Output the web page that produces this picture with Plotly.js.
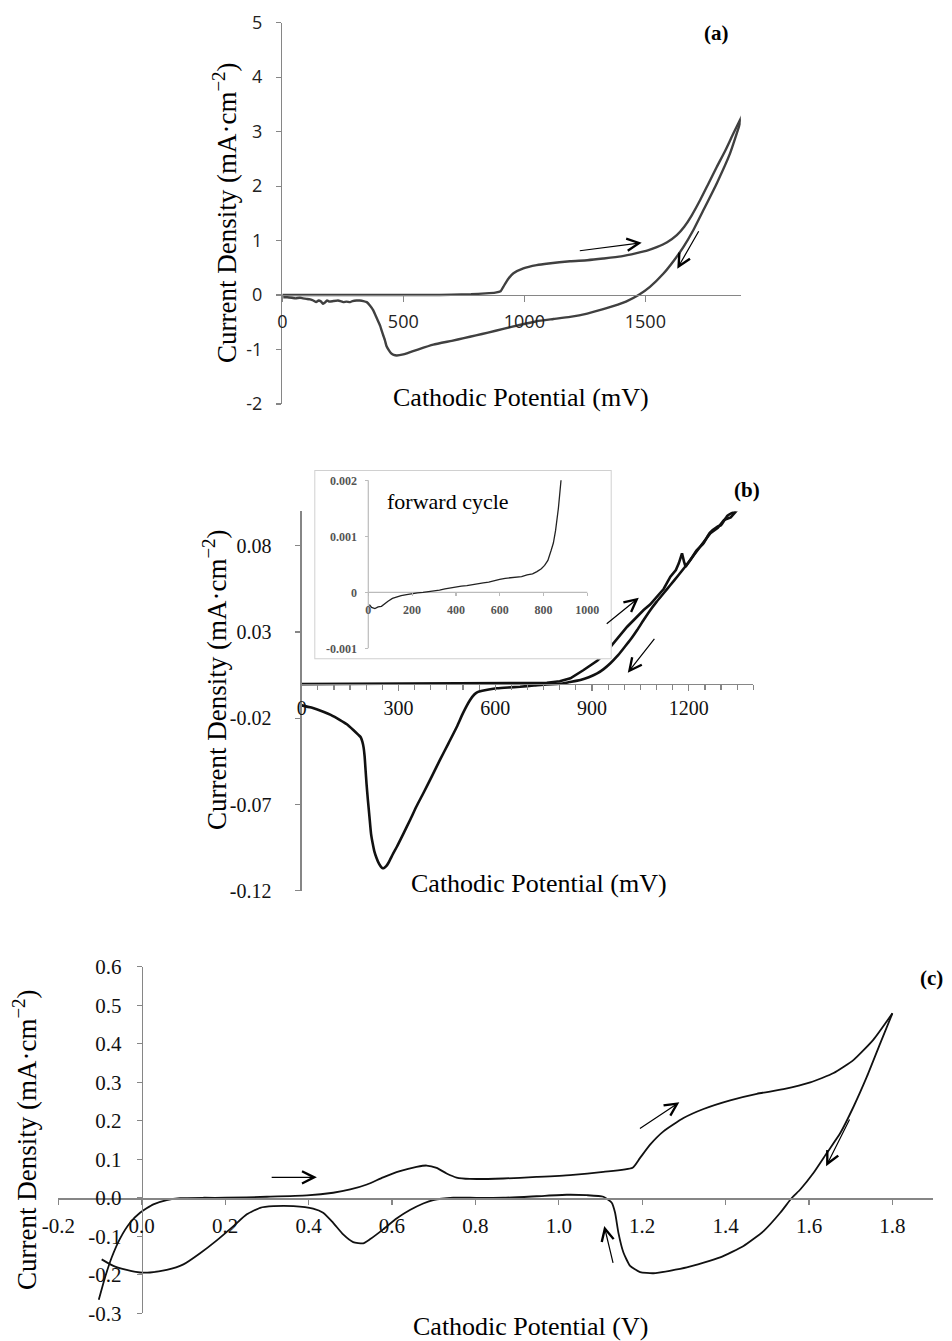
<!DOCTYPE html>
<html>
<head>
<meta charset="utf-8">
<script src="https://cdn.plot.ly/plotly-3.0.1.min.js"></script>
<style>html,body{margin:0;padding:0;background:#fff;}#chart{width:952px;height:1341px;}</style>
</head>
<body>
<div id="chart"></div>
<script>
// ---------- Panel (a) data : mV vs mA·cm-2 ----------
const aFwdX = [0, 100, 200, 300, 400, 500, 600, 700, 780, 840, 880, 902, 913, 934, 955, 996, 1051, 1100, 1189, 1260, 1326, 1400, 1464, 1510, 1547, 1590, 1630, 1660, 1690, 1726, 1760, 1795, 1830, 1864, 1905];
const aFwdY = [0, 0, 0, 0, 0, 0, 0, 0.005, 0.015, 0.03, 0.045, 0.07, 0.15, 0.30, 0.40, 0.49, 0.55, 0.58, 0.62, 0.64, 0.67, 0.71, 0.77, 0.82, 0.88, 0.97, 1.1, 1.25, 1.45, 1.74, 2.04, 2.35, 2.65, 2.97, 3.34];
const aRevX = [1905, 1850, 1795, 1740, 1698, 1657, 1619, 1574, 1519, 1472, 1420, 1370, 1326, 1260, 1189, 1120, 1051, 980, 913, 850, 800, 750, 700, 624, 560, 520, 500, 473, 460, 450, 440, 430, 424, 414, 404, 390, 376, 362, 349, 335, 320, 307, 290, 280, 265, 252, 240, 230, 211, 195, 185, 175, 168, 160, 150, 140, 128, 115, 100, 85, 73, 55, 40, 20, 4];
const aRevY = [3.34, 2.6, 2.05, 1.56, 1.19, 0.88, 0.64, 0.39, 0.15, 0.0, -0.12, -0.2, -0.26, -0.34, -0.40, -0.44, -0.48, -0.55, -0.62, -0.69, -0.74, -0.79, -0.84, -0.91, -1.0, -1.06, -1.09, -1.11, -1.10, -1.07, -1.01, -0.93, -0.83, -0.70, -0.56, -0.42, -0.28, -0.19, -0.13, -0.11, -0.10, -0.10, -0.11, -0.13, -0.12, -0.13, -0.11, -0.10, -0.11, -0.12, -0.10, -0.14, -0.16, -0.12, -0.10, -0.13, -0.10, -0.08, -0.07, -0.06, -0.05, -0.06, -0.05, -0.04, -0.04];
const aXTicks = [0, 500, 1000, 1500];
const aXTickText = ['0', '500', '1000', '1500'];
const aYTicks = [-2, -1, 0, 1, 2, 3, 4, 5];
const aYTickText = ['-2', '-1', '0', '1', '2', '3', '4', '5'];

// ---------- Panel (b) data ----------
const bFwdX = [0, 100, 200, 300, 400, 500, 600, 700, 760, 800, 833, 874, 916, 940, 962, 985, 1009, 1035, 1060, 1080, 1102, 1122, 1143, 1160, 1169, 1179, 1185, 1190, 1205, 1226, 1245, 1267, 1290, 1309, 1330, 1350, 1380];
const bFwdY = [-0.0002, -0.0001, 0, 0.0001, 0.0001, 0.0002, 0.0003, 0.0003, 0.0006, 0.0015, 0.0032, 0.008, 0.0134, 0.0175, 0.0225, 0.0275, 0.0331, 0.038, 0.0428, 0.046, 0.0505, 0.055, 0.0621, 0.066, 0.0699, 0.0757, 0.071, 0.0679, 0.072, 0.0776, 0.082, 0.0873, 0.0905, 0.095, 0.0965, 0.1008, 0.106];
const bRevX = [1380, 1340, 1320, 1300, 1288, 1265, 1246, 1225, 1205, 1185, 1164, 1143, 1122, 1100, 1081, 1060, 1040, 1020, 998, 978, 957, 936, 916, 890, 864, 830, 800, 760, 720, 677, 640, 605, 580, 560, 545, 535, 522, 500, 481, 455, 429, 403, 377, 356, 336, 315, 295, 282, 270, 262, 256, 251, 246, 240, 232, 225, 220, 215, 210, 205, 201, 198, 195, 192, 188, 183, 175, 160, 140, 119, 90, 67, 30, 0];
const bRevY = [0.106, 0.0998, 0.0975, 0.092, 0.0911, 0.0875, 0.0815, 0.0775, 0.0718, 0.067, 0.0621, 0.0573, 0.0525, 0.0475, 0.0428, 0.037, 0.0312, 0.0258, 0.0206, 0.016, 0.0119, 0.0085, 0.006, 0.0038, 0.0022, 0.001, 0.0, -0.0003, -0.001, -0.0017, -0.0021, -0.0026, -0.0033, -0.004, -0.0048, -0.0062, -0.0094, -0.017, -0.0249, -0.0345, -0.044, -0.0538, -0.0635, -0.071, -0.079, -0.087, -0.0945, -0.099, -0.1035, -0.1058, -0.1067, -0.107, -0.1062, -0.1045, -0.101, -0.097, -0.0925, -0.087, -0.077, -0.067, -0.058, -0.05, -0.042, -0.037, -0.0335, -0.031, -0.0295, -0.0268, -0.0235, -0.021, -0.018, -0.0162, -0.0138, -0.0125];
const bXTicks = [0, 300, 600, 900, 1200];
const bXTickText = ['0', '300', '600', '900', '1200'];
const bYTicks = [-0.12, -0.07, -0.02, 0.03, 0.08];
const bYTickText = ['-0.12', '-0.07', '-0.02', '0.03', '0.08'];

// ---------- Inset (forward cycle) ----------
const insX = [5, 15, 30, 45, 60, 75, 90, 110, 130, 150, 175, 200, 225, 250, 275, 300, 325, 350, 375, 400, 425, 450, 475, 500, 525, 550, 575, 600, 625, 650, 675, 700, 725, 750, 770, 790, 805, 820, 835, 845, 855, 862, 868, 874, 880];
const insY = [-0.00022, -0.00027, -0.00029, -0.00026, -0.00025, -0.0002, -0.00016, -0.00011, -0.00008, -0.00006, -0.00004, -0.00002, -0.00001, 0.0, 0.00001, 0.00002, 0.00004, 0.00006, 0.00008, 0.0001, 0.00011, 0.00012, 0.00014, 0.00015, 0.00017, 0.00018, 0.00021, 0.00023, 0.00025, 0.00026, 0.00027, 0.00028, 0.00031, 0.00033, 0.00037, 0.00042, 0.00048, 0.00057, 0.00075, 0.00088, 0.0011, 0.0013, 0.0015, 0.00175, 0.002];
const insXTicks = [0, 200, 400, 600, 800, 1000];
const insXTickText = ['0', '200', '400', '600', '800', '1000'];
const insYTicks = [-0.001, 0, 0.001, 0.002];
const insYTickText = ['-0.001', '0', '0.001', '0.002'];

// ---------- Panel (c) data : V vs mA·cm-2 ----------
const cFwdX = [-0.103, -0.088, -0.072, -0.052, -0.028, -0.004, 0.028, 0.06, 0.092, 0.15, 0.2, 0.3, 0.396, 0.459, 0.5, 0.54, 0.579, 0.619, 0.659, 0.683, 0.707, 0.731, 0.755, 0.787, 0.867, 0.947, 1.027, 1.107, 1.177, 1.195, 1.219, 1.251, 1.299, 1.347, 1.411, 1.475, 1.539, 1.603, 1.659, 1.707, 1.754, 1.8];
const cFwdY = [-0.265, -0.207, -0.155, -0.106, -0.065, -0.039, -0.017, -0.006, -0.001, 0.0, 0.0, 0.0026, 0.006, 0.013, 0.0215, 0.0345, 0.053, 0.069, 0.080, 0.0837, 0.0777, 0.063, 0.0526, 0.049, 0.05, 0.054, 0.0587, 0.067, 0.0777, 0.1036, 0.138, 0.1725, 0.207, 0.2305, 0.253, 0.270, 0.282, 0.2995, 0.3238, 0.358, 0.41, 0.479];
const cRevX = [1.8, 1.771, 1.739, 1.707, 1.675, 1.643, 1.611, 1.579, 1.559, 1.531, 1.491, 1.443, 1.387, 1.307, 1.227, 1.195, 1.171, 1.155, 1.143, 1.135, 1.127, 1.107, 1.067, 1.019, 0.947, 0.867, 0.787, 0.747, 0.699, 0.675, 0.643, 0.611, 0.579, 0.547, 0.531, 0.507, 0.483, 0.459, 0.435, 0.411, 0.364, 0.316, 0.284, 0.252, 0.22, 0.18, 0.14, 0.1, 0.06, 0.02, -0.004, -0.036, -0.068, -0.096];
const cRevY = [0.479, 0.4016, 0.315, 0.237, 0.168, 0.1166, 0.0648, 0.0215, 0.0, -0.039, -0.0865, -0.125, -0.155, -0.181, -0.196, -0.193, -0.177, -0.142, -0.091, -0.039, -0.013, 0.0026, 0.0067, 0.0078, 0.004, 0.0, 0.0, 0.0, -0.006, -0.015, -0.032, -0.054, -0.082, -0.108, -0.1184, -0.115, -0.095, -0.065, -0.039, -0.0285, -0.0218, -0.0218, -0.026, -0.043, -0.0735, -0.1106, -0.144, -0.173, -0.1875, -0.194, -0.194, -0.1875, -0.177, -0.16];
const cXTicks = [-0.2, 0, 0.2, 0.4, 0.6, 0.8, 1.0, 1.2, 1.4, 1.6, 1.8];
const cXTickText = ['-0.2', '0.0', '0.2', '0.4', '0.6', '0.8', '1.0', '1.2', '1.4', '1.6', '1.8'];
const cYTicks = [-0.3, -0.2, -0.1, 0, 0.1, 0.2, 0.3, 0.4, 0.5, 0.6];
const cYTickText = ['-0.3', '-0.2', '-0.1', '0.0', '0.1', '0.2', '0.3', '0.4', '0.5', '0.6'];

// ---------- layout helpers (pixel -> paper) ----------
const W = 952, H = 1341;
const PX = v => v / W;
const PY = v => 1 - v / H;
const SERIF = 'Liberation Serif, Times New Roman, serif';
const SANS = 'Open Sans, Liberation Sans, sans-serif';
const AX = '#868686';

const traces = [
  {x: aFwdX, y: aFwdY, xaxis: 'x', yaxis: 'y', mode: 'lines', line: {color: '#404040', width: 2.4, shape: 'spline', smoothing: 0.5}},
  {x: aRevX, y: aRevY, xaxis: 'x', yaxis: 'y', mode: 'lines', line: {color: '#404040', width: 2.4, shape: 'spline', smoothing: 0.4}},
  {x: bFwdX, y: bFwdY, xaxis: 'x2', yaxis: 'y2', mode: 'lines', line: {color: '#111', width: 2.6}},
  {x: bRevX, y: bRevY, xaxis: 'x2', yaxis: 'y2', mode: 'lines', line: {color: '#111', width: 2.6, shape: 'spline', smoothing: 0.6}},
  {x: insX, y: insY, xaxis: 'x3', yaxis: 'y3', mode: 'lines', line: {color: '#222', width: 1.3}},
  {x: cFwdX, y: cFwdY, xaxis: 'x4', yaxis: 'y4', mode: 'lines', line: {color: '#111', width: 1.8, shape: 'spline', smoothing: 0.5}},
  {x: cRevX, y: cRevY, xaxis: 'x4', yaxis: 'y4', mode: 'lines', line: {color: '#111', width: 1.8, shape: 'spline', smoothing: 0.5}}
];

function axisBase(extra) {
  return Object.assign({
    showgrid: false, zeroline: false, showline: true, linecolor: AX, linewidth: 1.3,
    ticks: 'outside', tickcolor: AX, tickwidth: 1.2, fixedrange: true
  }, extra);
}

const insXRange = [(314.3 - 368.3) / 0.219, (611.7 - 368.3) / 0.219];
const insYRange = [(592.3 - 659.3) / 56000, (592.3 - 470) / 56000];

const layout = {
  width: W, height: H, margin: {l: 0, r: 0, t: 0, b: 0},
  paper_bgcolor: '#fff', plot_bgcolor: '#fff', showlegend: false,
  // panel (a)
  xaxis: axisBase({domain: [PX(282.3), PX(740.7)], range: [0, 1894], anchor: 'free', position: PY(294.7),
    tickvals: aXTicks, ticktext: aXTickText, ticklen: 6, ticklabelstandoff: 4,
    tickfont: {family: SANS, size: 18, color: '#222'}}),
  yaxis: axisBase({domain: [PY(404), PY(22.7)], range: [-2, 5], anchor: 'x',
    tickvals: aYTicks, ticktext: aYTickText, ticklen: 5, ticklabelstandoff: 10,
    tickfont: {family: SANS, size: 18, color: '#222'}}),
  // panel (b)
  xaxis2: axisBase({domain: [PX(301.7), PX(753.3)], range: [0, 1400], anchor: 'free', position: PY(683.8),
    tickvals: bXTicks, ticktext: bXTickText, ticklen: 6, ticklabelstandoff: 0,
    minor: {tickmode: 'linear', tick0: 0, dtick: 50, ticks: 'outside', ticklen: 5, tickcolor: AX, tickwidth: 1.2},
    tickfont: {family: SERIF, size: 20, color: '#111'}}),
  yaxis2: axisBase({domain: [PY(890.7), PY(511.4)], range: [-0.12, 0.1], anchor: 'x2',
    tickvals: bYTicks, ticktext: bYTickText, ticklen: 5, ticklabelstandoff: 20,
    tickfont: {family: SERIF, size: 20, color: '#111'}}),
  // inset
  xaxis3: axisBase({domain: [PX(314.3), PX(611.7)], range: insXRange, anchor: 'free', position: PY(592.3),
    showline: false, tickvals: insXTicks, ticktext: insXTickText, ticklen: 3, ticklabelstandoff: 3,
    tickcolor: '#bbb', tickfont: {family: SERIF, size: 12, color: '#555', weight: 'bold'}}),
  yaxis3: axisBase({domain: [PY(659.3), PY(470)], range: insYRange, anchor: 'free', position: PX(368.3),
    showline: false, tickvals: insYTicks, ticktext: insYTickText, ticklen: 3, ticklabelstandoff: 6,
    tickcolor: '#bbb', tickfont: {family: SERIF, size: 12, color: '#555', weight: 'bold'}}),
  // panel (c)
  xaxis4: axisBase({domain: [PX(58.3), PX(933.3)], range: [-0.2, 1.898], anchor: 'free', position: PY(1198.3),
    tickvals: cXTicks, ticktext: cXTickText, ticklen: 5, ticklabelstandoff: 3,
    tickfont: {family: SERIF, size: 21, color: '#111'}}),
  yaxis4: axisBase({domain: [PY(1313.3), PY(966.7)], range: [-0.3, 0.6], anchor: 'free', position: PX(141.7),
    tickvals: cYTicks, ticktext: cYTickText, ticklen: 5, ticklabelstandoff: 11,
    tickfont: {family: SERIF, size: 21, color: '#111'}}),
  shapes: [
    // inset frame and axis lines
    {type: 'rect', xref: 'x3', yref: 'y3', layer: 'below', x0: insXRange[0], x1: insXRange[1], y0: insYRange[0], y1: insYRange[1],
      line: {color: '#d0d0d0', width: 2}, fillcolor: 'rgba(0,0,0,0)'},
    {type: 'line', xref: 'x3', yref: 'y3', layer: 'below', x0: insXTicks[0], x1: insXTicks[insXTicks.length - 1], y0: 0, y1: 0,
      line: {color: '#bbb', width: 1.2}},
    {type: 'line', xref: 'x3', yref: 'y3', layer: 'below', x0: 0, x1: 0, y0: insYTicks[0], y1: insYTicks[insYTicks.length - 1],
      line: {color: '#bbb', width: 1.2}}
  ],
  annotations: []
};

const ann = layout.annotations;
function text(t, x, y, size, opts) {
  ann.push(Object.assign({text: t, xref: 'paper', yref: 'paper', x: PX(x), y: PY(y), xanchor: 'center', yanchor: 'middle',
    showarrow: false, font: {family: SERIF, size: size, color: '#000'}}, opts || {}));
}
const YT = 'Current Density (mA·cm<sup>−2</sup>)';
text('Cathodic Potential (mV)', 521, 397, 26);
text(YT, 225, 213, 27, {textangle: -90});
text('<b>(a)</b>', 716.7, 33, 21);
text('Cathodic Potential (mV)', 539, 883, 26);
text(YT, 215, 680, 27, {textangle: -90});
text('<b>(b)</b>', 746.7, 490, 21);
text('forward cycle', 448.3, 501.7, 22);
text('Cathodic Potential (V)', 530, 1326.7, 26);
text(YT, 25, 1140, 27, {textangle: -90});
text('<b>(c)</b>', 931.7, 978.3, 21);

// direction arrows (tail -> head) in data coordinates of each panel
const arrows = [
  ['x', 'y', 1223, 0.81, 1485, 0.96],
  ['x', 'y', 1724, 1.20, 1632, 0.485],
  ['x2', 'y2', 941, 0.0341, 1045, 0.0499],
  ['x2', 'y2', 1097, 0.027, 1011, 0.0064],
  ['x4', 'y4', 0.308, 0.053, 0.42, 0.053],
  ['x4', 'y4', 1.191, 0.177, 1.289, 0.248],
  ['x4', 'y4', 1.699, 0.207, 1.641, 0.082],
  ['x4', 'y4', 1.131, -0.173, 1.109, -0.0735]
];
arrows.forEach(a => ann.push({xref: a[0], yref: a[1], axref: a[0], ayref: a[1], ax: a[2], ay: a[3], x: a[4], y: a[5],
  text: '', showarrow: true, arrowhead: 5, arrowsize: 2, arrowwidth: 1.2, arrowcolor: '#000', standoff: 0}));

Plotly.newPlot('chart', traces, layout, {staticPlot: true, displayModeBar: false});
</script>
</body>
</html>
